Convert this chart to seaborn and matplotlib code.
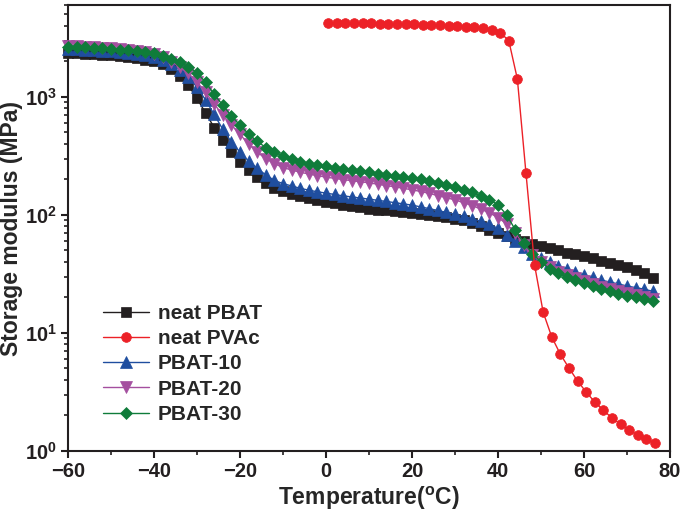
import numpy as np
import pandas as pd
import matplotlib
matplotlib.use("Agg")
import matplotlib.pyplot as plt
import seaborn as sns

# Temperatures (every 2 C) for the PBAT-based samples
temp = list(range(-60, 78, 2))

neat_pbat = [2350, 2330, 2310, 2290, 2270, 2250, 2220, 2180, 2130, 2070,
             2000, 1880, 1710, 1500, 1250, 970, 730, 550, 430, 340,
             280, 240, 208, 185, 170, 158, 150, 144, 138, 133,
             128, 125, 122, 119, 116, 113, 111, 109, 108, 106,
             104, 102, 100, 98, 96, 93, 90, 86, 81, 75,
             70, 66, 63, 60, 57, 54, 52, 50, 48, 46.5,
             45, 43, 41, 39.5, 38, 36, 34, 32, 29]

pbat_10 = [2550, 2530, 2510, 2490, 2470, 2440, 2410, 2370, 2320, 2250,
           2170, 2060, 1900, 1700, 1470, 1210, 940, 710, 530, 415,
           340, 285, 248, 218, 196, 184, 176, 168, 162, 157,
           153, 149, 145, 142, 139, 136, 133, 130, 127, 124,
           121, 117, 113, 109, 105, 101, 97, 93, 88, 83,
           77, 68, 60, 53, 47, 43, 40, 37, 35, 33,
           31, 29.5, 28, 27, 26, 25, 24.2, 23.5, 22.5]

pbat_20 = [2700, 2680, 2660, 2640, 2610, 2580, 2550, 2510, 2460, 2390,
           2300, 2170, 1990, 1790, 1580, 1340, 1090, 870, 700, 580,
           480, 400, 340, 300, 272, 252, 240, 230, 222, 215,
           209, 204, 199, 195, 191, 187, 182, 177, 173, 168,
           163, 158, 152, 146, 140, 134, 127, 120, 112, 104,
           95, 84, 70, 56, 46, 40, 36, 33, 31, 29,
           27.5, 26, 24.5, 23.5, 22.5, 21.7, 21, 20.3, 19.5]

pbat_30 = [2650, 2640, 2620, 2600, 2570, 2540, 2510, 2480, 2440, 2390,
           2330, 2230, 2110, 1960, 1800, 1600, 1330, 1050, 850, 690,
           575, 485, 420, 372, 340, 316, 297, 282, 272, 264,
           258, 252, 246, 240, 234, 229, 224, 219, 214, 209,
           205, 200, 194, 188, 180, 172, 163, 155, 145, 134,
           122, 100, 75, 58, 47, 40, 35, 32, 30, 28,
           26.5, 25, 23.5, 22.5, 21.5, 20.7, 20, 19.3, 18.5]

# neat PVAc measured from ~0.5 C
temp_pvac = [0.5 + 2 * i for i in range(39)]
neat_pvac = [4250, 4240, 4230, 4220, 4210, 4200, 4180, 4170, 4150, 4130,
             4110, 4090, 4060, 4030, 4000, 3960, 3920, 3870, 3800, 3680,
             3500, 3000, 1420, 227, 37.7, 15, 9.25, 6.6, 5.05, 3.92,
             3.16, 2.6, 2.22, 1.9, 1.69, 1.5, 1.37, 1.26, 1.17]

sns.set_style("ticks")
plt.rcParams["font.family"] = ["Liberation Sans", "DejaVu Sans"]
plt.rcParams["font.weight"] = "bold"
plt.rcParams["mathtext.fontset"] = "custom"
plt.rcParams["mathtext.rm"] = "Liberation Sans:bold"
plt.rcParams["mathtext.it"] = "Liberation Sans:bold"
plt.rcParams["mathtext.bf"] = "Liberation Sans:bold"

fig = plt.figure(figsize=(6.85, 5.17), dpi=100)
ax = fig.add_axes([68 / 685, 66 / 517, 602 / 685, 446 / 517])

series = [
    ("neat PBAT", temp, neat_pbat, "#231f20", "s", 6.5, 2),
    ("neat PVAc", temp_pvac, neat_pvac, "#ec2127", "o", 7, 6),
    ("PBAT-10", temp, pbat_10, "#1f4e9f", "^", 8, 3),
    ("PBAT-20", temp, pbat_20, "#a44f9f", "v", 8, 4),
    ("PBAT-30", temp, pbat_30, "#0f7c3a", "D", 6, 5),
]

for name, x, y, c, m, ms, z in series:
    df = pd.DataFrame({"T": x, "E": y})
    sns.lineplot(data=df, x="T", y="E", ax=ax, color=c, marker=m,
                 markersize=ms, markeredgecolor=c, markeredgewidth=0.5,
                 linewidth=1, label=name, zorder=z, clip_on=False)

ax.set_yscale("log")
ax.set_xlim(-60, 80)
ax.set_ylim(1, 6000)
ax.set_xticks(range(-60, 81, 20))
ax.set_xticks(range(-50, 80, 20), minor=True)
ax.set_yticks([1, 10, 100, 1000])
ax.set_yticklabels([r"$10^{0}$", r"$10^{1}$", r"$10^{2}$", r"$10^{3}$"])

for s in ax.spines.values():
    s.set_linewidth(1.5)
    s.set_color("#231f20")
ax.tick_params(which="major", direction="out", length=5, width=1.5,
               labelsize=14.5, colors="#231f20", pad=3)
ax.tick_params(which="minor", direction="out", length=3, width=1.2,
               colors="#231f20")
for lab in ax.get_xticklabels() + ax.get_yticklabels():
    lab.set_fontweight("bold")

ax.set_xlabel("Temperature($^{\\mathrm{o}}$C)", fontsize=16.5,
              fontweight="bold", labelpad=3)
ax.set_ylabel("Storage modulus (MPa)", fontsize=16.5, fontweight="bold",
              labelpad=1)

ax.legend(loc="lower left", bbox_to_anchor=(0.045, 0.042), frameon=False,
          prop={"size": 15, "weight": "bold"}, handlelength=2.2,
          handletextpad=0.4, labelspacing=0.3, borderaxespad=0)

fig.savefig("out.png", dpi=100)
